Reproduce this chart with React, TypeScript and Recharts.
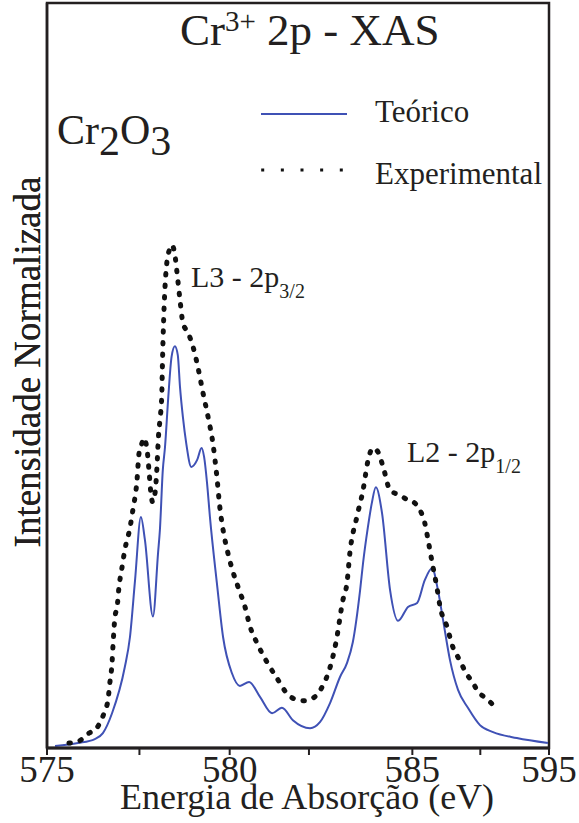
import React from "react";
import { LineChart, Line, XAxis, YAxis, Legend, ReferenceArea } from "recharts";

// ---- data (energy in eV, normalized intensity) ----
const teoEnergy = [
  575.22, 575.85, 576.31, 576.53, 576.78, 577.13, 577.27, 577.41, 577.57, 577.68,
  577.9, 578.04, 578.09, 578.17, 578.23, 578.32, 578.41, 578.5, 578.58, 578.64,
  578.72, 578.81, 578.95, 579.11, 579.23, 579.3, 579.38, 579.46, 579.65, 579.82,
  580.06, 580.28, 580.53, 580.83, 581.16, 581.43, 581.73, 582.2, 582.47, 582.75,
  583.02, 583.21, 583.37, 583.57, 583.65, 583.78, 583.89, 584.0, 584.17, 584.39,
  584.61, 584.88, 585.13, 585.34, 585.54, 585.7, 585.84, 586.03, 586.25, 586.52,
  586.85, 587.21, 587.86, 588.71,
];
const teoIntensity = [
  0.004, 0.01, 0.018, 0.03, 0.07, 0.163, 0.223, 0.338, 0.465, 0.419,
  0.265, 0.393, 0.439, 0.56, 0.606, 0.707, 0.788, 0.809, 0.791, 0.727,
  0.666, 0.614, 0.566, 0.58, 0.604, 0.586, 0.534, 0.465, 0.332, 0.223,
  0.151, 0.125, 0.133, 0.103, 0.07, 0.081, 0.056, 0.04, 0.052, 0.091,
  0.143, 0.171, 0.213, 0.318, 0.372, 0.443, 0.493, 0.525, 0.473, 0.318,
  0.256, 0.284, 0.292, 0.338, 0.362, 0.318, 0.258, 0.177, 0.117, 0.081,
  0.046, 0.032, 0.02, 0.01,
];

const expEnergy = [
  575.6, 575.82, 575.96, 576.15, 576.34, 576.48, 576.59, 576.67, 576.72, 576.78,
  576.81, 576.86, 576.92, 576.97, 577.05, 577.13, 577.27, 577.35, 577.46, 577.52,
  577.6, 577.65, 577.74, 577.79, 577.85, 577.89, 577.96, 578.01, 578.05, 578.09,
  578.14, 578.16, 578.19, 578.23, 578.28, 578.35, 578.42, 578.5, 578.56, 578.64,
  578.72, 578.86, 579.0, 579.13, 579.27, 579.41, 579.54, 579.65, 579.73, 579.82,
  579.95, 580.06, 580.23, 580.42, 580.56, 580.75, 581.02, 581.29, 581.6, 581.84,
  582.01, 582.33, 582.53, 582.75, 582.91, 583.1, 583.21, 583.29, 583.48, 583.65,
  583.79, 583.92, 584.06, 584.2, 584.39, 584.66, 584.88, 585.07, 585.21, 585.34,
  585.43, 585.54, 585.67, 585.76, 585.95, 586.11, 586.22, 586.36, 586.47, 586.66,
  586.8, 586.96, 587.15, 587.32,
];
const expIntensity = [
  0.01, 0.012, 0.018, 0.03, 0.038, 0.056, 0.076, 0.097, 0.131, 0.171,
  0.211, 0.264, 0.284, 0.324, 0.362, 0.399, 0.443, 0.479, 0.536, 0.594,
  0.614, 0.624, 0.6, 0.56, 0.509, 0.495, 0.515, 0.566, 0.626, 0.66,
  0.707, 0.775, 0.856, 0.928, 0.977, 1.003, 1.013, 0.993, 0.956, 0.902,
  0.856, 0.836, 0.807, 0.767, 0.715, 0.666, 0.614, 0.546, 0.485, 0.439,
  0.393, 0.362, 0.324, 0.284, 0.244, 0.211, 0.173, 0.141, 0.107, 0.097,
  0.095, 0.103, 0.123, 0.163, 0.213, 0.298, 0.332, 0.393, 0.465, 0.519,
  0.58, 0.604, 0.596, 0.566, 0.519, 0.509, 0.499, 0.493, 0.479, 0.453,
  0.419, 0.374, 0.324, 0.284, 0.244, 0.203, 0.187, 0.167, 0.151, 0.131,
  0.113, 0.103, 0.091, 0.077,
];

const energyDomain = [575, 588.74];
const intensityDomain = [0, 1.5];
const energyTicks = [575, 577.53, 580, 582.17, 585, 586.86, 588.74];
const tickLabels = ["575", "", "580", "", "585", "", "595"];
const seriesNames = ["Teórico", "Experimental"];

const teoData = teoEnergy.map((e, i) => ({ e, i: teoIntensity[i] }));
const expData = expEnergy.map((e, i) => ({ e, i: expIntensity[i] }));

// ---- styles ----
const FONT = "'Liberation Serif','Times New Roman',Times,serif";
const INK = "#231f20";
const BLUE = "#3f51b5";

const EnergyTick = (props: any) => {
  const { x, y, payload } = props;
  const idx = energyTicks.indexOf(payload.value);
  const label = idx >= 0 ? tickLabels[idx] : "";
  if (!label) return null;
  return (
    <text x={x} y={y} dy={25} textAnchor="middle" fontFamily={FONT} fontSize={37} fill={INK}>
      {label}
    </text>
  );
};

const LegendContent = (props: any) => {
  const payload = [...(props.payload || [])].sort(
    (a: any, b: any) => seriesNames.indexOf(a.value) - seriesNames.indexOf(b.value)
  );
  const lineY = [114, 170];
  const textY = [122, 184];
  return (
    <svg width={579} height={200} style={{ display: "block" }}>
      {payload.map((entry: any, k: number) => (
        <g key={k}>
          {k === 0 ? (
            <line x1={261} x2={347} y1={lineY[k]} y2={lineY[k]} stroke={BLUE} strokeWidth={2} />
          ) : (
            <line
              x1={261.2}
              x2={345}
              y1={lineY[k]}
              y2={lineY[k]}
              stroke="#111"
              strokeWidth={3}
              strokeDasharray="3 16.65"
            />
          )}
          <text x={375} y={textY[k]} fontFamily={FONT} fontSize={31} fill={INK}>
            {entry.value}
          </text>
        </g>
      ))}
    </svg>
  );
};

const YLabel = () => (
  <text
    x={40}
    y={362}
    transform="rotate(-90 40 362)"
    textAnchor="middle"
    fontFamily={FONT}
    fontSize={37}
    fill={INK}
  >
    Intensidade Normalizada
  </text>
);

export default function App() {
  return (
    <div style={{ position: "absolute", left: 0, top: 0, width: 579, height: 823, background: "#fff" }}>
      <LineChart width={579} height={823} margin={{ top: 3, right: 30, left: 46, bottom: 0 }}>
        <XAxis
          xAxisId="b"
          type="number"
          dataKey="e"
          domain={energyDomain}
          ticks={energyTicks}
          interval={0}
          allowDataOverflow
          height={75}
          tickSize={7}
          tick={<EnergyTick />}
          tickLine={{ stroke: INK, strokeWidth: 2 }}
          axisLine={{ stroke: INK, strokeWidth: 3 }}
          label={{
            value: "Energia de Absorção (eV)",
            position: "insideBottom",
            offset: 14,
            dx: 9,
            style: { fontFamily: FONT, fontSize: 36, fill: INK },
          }}
        />
        <YAxis
          yAxisId="l"
          type="number"
          domain={intensityDomain}
          allowDataOverflow
          width={1}
          tick={false}
          tickLine={false}
          axisLine={{ stroke: INK, strokeWidth: 2.5 }}
          label={{ content: <YLabel /> }}
        />
        <ReferenceArea
          xAxisId="b"
          yAxisId="l"
          x1={energyDomain[0]}
          x2={energyDomain[1]}
          y1={intensityDomain[0]}
          y2={intensityDomain[1]}
          fill="none"
          fillOpacity={0}
          stroke={INK}
          strokeWidth={2.5}
          ifOverflow="visible"
        />
        <Legend
          layout="vertical"
          align="center"
          verticalAlign="middle"
          content={<LegendContent />}
          wrapperStyle={{ position: "absolute", left: 0, top: 0, width: 579, height: 200, pointerEvents: "none" }}
        />
        <Line
          xAxisId="b"
          yAxisId="l"
          data={teoData}
          dataKey="i"
          name={seriesNames[0]}
          type="monotone"
          stroke={BLUE}
          strokeWidth={2}
          dot={false}
          isAnimationActive={false}
        />
        <Line
          xAxisId="b"
          yAxisId="l"
          data={expData}
          dataKey="i"
          name={seriesNames[1]}
          type="monotone"
          stroke="#111"
          strokeWidth={5}
          strokeDasharray="1.5 10"
          strokeLinecap="round"
          dot={false}
          isAnimationActive={false}
        />
        <YLabel />
        <text x={180} y={45} fontFamily={FONT} fontSize={45} fill={INK} style={{ whiteSpace: "pre" }}>
          Cr
          <tspan dy={-14} fontSize={29}>3+</tspan>
          <tspan dy={14} fontSize={45}>{" 2p - XAS"}</tspan>
        </text>
        <text x={57} y={144} fontFamily={FONT} fontSize={42} fill={INK}>
          Cr
          <tspan dy={11}>2</tspan>
          <tspan dy={-11}>O</tspan>
          <tspan dy={11}>3</tspan>
        </text>
        <text x={191} y={287} fontFamily={FONT} fontSize={30} fill={INK} style={{ whiteSpace: "pre" }}>
          {"L3 - 2p"}
          <tspan dy={11} fontSize={20}>3/2</tspan>
        </text>
        <text x={407} y={462} fontFamily={FONT} fontSize={30} fill={INK} style={{ whiteSpace: "pre" }}>
          {"L2 - 2p"}
          <tspan dy={11} fontSize={20}>1/2</tspan>
        </text>
      </LineChart>
    </div>
  );
}
